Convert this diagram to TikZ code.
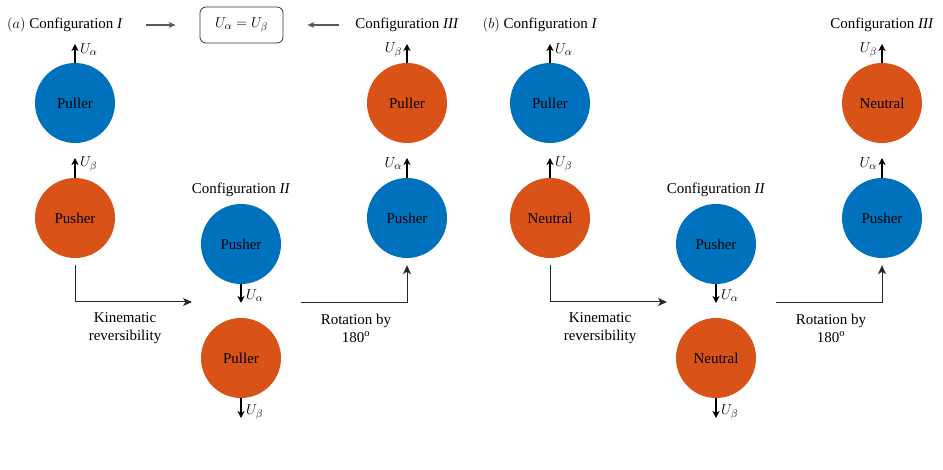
\documentclass[tikz,border=0pt]{standalone}
\usepackage{fontspec}
\setmainfont{Liberation Serif}
\usetikzlibrary{arrows.meta}
\definecolor{mblue}{RGB}{0,114,189}
\definecolor{morange}{RGB}{217,83,25}
\begin{document}
\begin{tikzpicture}[x=1pt,y=-1pt,
 every node/.style={font=\fontsize{15}{18}\selectfont},
 ball/.style={circle,minimum size=80pt,inner sep=0pt},
 bblue/.style={ball,fill=mblue},
 borange/.style={ball,fill=morange},
 vec/.style={line width=1.5pt,-{Stealth[length=7pt,width=7pt,inset=2pt]}},
 conn/.style={line width=1pt,draw=black!85,-{Stealth[length=9pt,width=8pt,inset=2.5pt]}},
 garrow/.style={line width=1.1pt,draw=black!65,-{Stealth[length=7pt,width=6pt,inset=2pt]}},
 lbl/.style={inner sep=1pt},
 eqbox/.style={draw=black!80,line width=0.8pt,rounded corners=6pt,minimum width=83pt,minimum height=36pt}]
\useasboundingbox (0,0) rectangle (943,470);

% ---------------- panel (a) ----------------
\node (aT1) at (65,25) {$(a)$ Configuration \textit{I}};
\node (aT3) at (407,25) {Configuration \textit{III}};
\node[eqbox] (abox) at (241.5,25) {$U_\alpha = U_\beta$};
\draw[garrow,shorten <=20pt,shorten >=24pt] (aT1.east) -- (abox.west);
\draw[garrow,shorten <=13pt,shorten >=24pt] (aT3.west) -- (abox.east);

\node[bblue]   (aI1)   at (75,103)  {Puller};
\node[borange] (aI2)   at (75,218)  {Pusher};
\node (aT2) at (241,190) {Configuration \textit{II}};
\node[bblue]   (aII1)  at (241,244) {Pusher};
\node[borange] (aII2)  at (241,358) {Puller};
\node[borange] (aIII1) at (407,103) {Puller};
\node[bblue]   (aIII2) at (407,218) {Pusher};

\coordinate (aI1t) at (75,44);
\coordinate (aI2t) at (75,158);
\coordinate (aII1t) at (241,303);
\coordinate (aII2t) at (241,418);
\coordinate (aIII1t) at (407,44);
\coordinate (aIII2t) at (407,158);
\draw[vec] (aI1) -- (aI1t);
\draw[vec] (aI2) -- (aI2t);
\draw[vec] (aII1) -- (aII1t);
\draw[vec] (aII2) -- (aII2t);
\draw[vec] (aIII1) -- (aIII1t);
\draw[vec] (aIII2) -- (aIII2t);
\node[lbl,anchor=west] at (79,50) {$U_\alpha$};
\node[lbl,anchor=west] at (79,164) {$U_\beta$};
\node[lbl,anchor=west] at (245,296) {$U_\alpha$};
\node[lbl,anchor=west] at (245,412) {$U_\beta$};
\node[lbl,anchor=east] at (403,50) {$U_\beta$};
\node[lbl,anchor=east] at (403,164) {$U_\alpha$};

\coordinate (akin) at (192,302);
\coordinate (arot) at (301,303);
\draw[conn] ([yshift=-7pt]aI2.south) |- (akin);
\draw[conn] (arot) -| ([yshift=-7pt]aIII2.south);
\node[align=center] at (125,328) {Kinematic\\reversibility};
\node[align=center] at (356,328) {Rotation by\\180\textsuperscript{o}};

% ---------------- panel (b) ----------------
\node (bT1) at (540,25) {$(b)$ Configuration \textit{I}};
\node (bT3) at (882,25) {Configuration \textit{III}};

\node[bblue]   (bI1)   at (550,103)  {Puller};
\node[borange] (bI2)   at (550,218)  {Neutral};
\node (bT2) at (716,190) {Configuration \textit{II}};
\node[bblue]   (bII1)  at (716,244) {Pusher};
\node[borange] (bII2)  at (716,358) {Neutral};
\node[borange] (bIII1) at (882,103) {Neutral};
\node[bblue]   (bIII2) at (882,218) {Pusher};

\coordinate (bI1t) at (550,44);
\coordinate (bI2t) at (550,158);
\coordinate (bII1t) at (716,303);
\coordinate (bII2t) at (716,418);
\coordinate (bIII1t) at (882,44);
\coordinate (bIII2t) at (882,158);
\draw[vec] (bI1) -- (bI1t);
\draw[vec] (bI2) -- (bI2t);
\draw[vec] (bII1) -- (bII1t);
\draw[vec] (bII2) -- (bII2t);
\draw[vec] (bIII1) -- (bIII1t);
\draw[vec] (bIII2) -- (bIII2t);
\node[lbl,anchor=west] at (554,50) {$U_\alpha$};
\node[lbl,anchor=west] at (554,164) {$U_\beta$};
\node[lbl,anchor=west] at (720,296) {$U_\alpha$};
\node[lbl,anchor=west] at (720,412) {$U_\beta$};
\node[lbl,anchor=east] at (878,50) {$U_\beta$};
\node[lbl,anchor=east] at (878,164) {$U_\alpha$};

\coordinate (bkin) at (667,302);
\coordinate (brot) at (776,303);
\draw[conn] ([yshift=-7pt]bI2.south) |- (bkin);
\draw[conn] (brot) -| ([yshift=-7pt]bIII2.south);
\node[align=center] at (600,328) {Kinematic\\reversibility};
\node[align=center] at (831,328) {Rotation by\\180\textsuperscript{o}};
\end{tikzpicture}
\end{document}
